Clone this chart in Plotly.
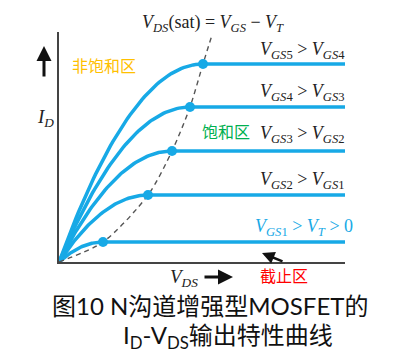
import numpy as np
import plotly.graph_objects as go

# --- data (pixel-like units from the origin) ---
curve_names = ["VGS1", "VGS2", "VGS3", "VGS4", "VGS5"]
v_sat = [44, 89, 113, 131, 144]        # V_DS(sat) of each curve
i_sat = [20, 67, 111, 155, 198]        # saturation current of each curve
v_ds_max = 286                          # end of the V_DS axis
i_d_max = 230                           # top of the I_D axis
boundary_v = [0, 44, 89, 113, 131, 144, 153]   # dashed V_DS(sat) locus
boundary_i = [0, 20, 67, 111, 155, 198, 227]
curve_labels = [
    "<i>V</i><sub><i>GS</i>1</sub> &gt; <i>V</i><sub><i>T</i></sub> &gt; 0",
    "<i>V</i><sub><i>GS</i>2</sub> &gt; <i>V</i><sub><i>GS</i>1</sub>",
    "<i>V</i><sub><i>GS</i>3</sub> &gt; <i>V</i><sub><i>GS</i>2</sub>",
    "<i>V</i><sub><i>GS</i>4</sub> &gt; <i>V</i><sub><i>GS</i>3</sub>",
    "<i>V</i><sub><i>GS</i>5</sub> &gt; <i>V</i><sub><i>GS</i>4</sub>",
]

BLUE = "#17A9E6"
fig = go.Figure()

# square-law output curves built from each read saturation point
for vs, isat in zip(v_sat, i_sat):
    x_tri = np.linspace(0, vs, 60)
    y_tri = isat * (1 - (1 - x_tri / vs) ** 2)
    x = np.concatenate([x_tri, [v_ds_max]])
    y = np.concatenate([y_tri, [isat]])
    fig.add_trace(go.Scatter(x=x, y=y, mode="lines",
                             line=dict(color=BLUE, width=3.5),
                             hoverinfo="skip", showlegend=False))

# dashed saturation boundary
fig.add_trace(go.Scatter(x=boundary_v, y=boundary_i, mode="lines",
                         line=dict(color="#555555", width=1.4, dash="5px,4px", shape="spline",
                                   smoothing=0.8),
                         hoverinfo="skip", showlegend=False))

# saturation dots
fig.add_trace(go.Scatter(x=v_sat, y=i_sat, mode="markers",
                         marker=dict(color=BLUE, size=10),
                         hoverinfo="skip", showlegend=False, cliponaxis=False))

L, R, T, B = 59, 61, 32, 90
W, H = 406, 352
pw, ph = W - L - R, H - T - B

def px(xp):
    return (xp - L) / pw

def py(yp):
    return (H - B - yp) / ph

serif = "Liberation Serif"
ann = []


def text(xp, yp, t, font, xanchor="center"):
    return dict(x=px(xp), y=py(yp), xref="paper", yref="paper", text=t,
                showarrow=False, xanchor=xanchor, yanchor="middle", font=font)


# curve labels (right aligned)
label_y = [227, 180, 134, 92, 50]
label_xr = [355, 347, 347, 347, 347]
for i, (t, yy, xr) in enumerate(zip(curve_labels, label_y, label_xr)):
    ann.append(text(xr, yy, t, dict(family=serif, size=18,
                                    color=BLUE if i == 0 else "#222222"),
                    xanchor="right"))

# top formula
ann.append(text(213, 23,
                "<i>V</i><sub><i>DS</i></sub>(sat) = <i>V</i><sub><i>GS</i></sub> − <i>V</i><sub><i>T</i></sub>",
                dict(family=serif, size=18, color="#222222")))

# region names
cjk = "Noto Sans CJK SC"
ann.append(text(104, 65, "非饱和区", dict(family=cjk, size=16, color="#FFC000")))
ann.append(text(226, 131, "饱和区", dict(family=cjk, size=16, color="#00B050")))
ann.append(text(284, 275, "截止区", dict(family=cjk, size=16, color="#FF0000")))


def arrow(hx, hy, tx, ty, w):
    return dict(x=px(hx), y=py(hy), xref="paper", yref="paper", text="",
                showarrow=True, ax=tx - hx, ay=ty - hy, axref="pixel", ayref="pixel",
                arrowhead=2, arrowsize=1, arrowwidth=w, arrowcolor="#111111",
                standoff=0, startstandoff=0)


# I_D label and up arrow
ann.append(text(45, 118, "<i>I</i><sub><i>D</i></sub>",
                dict(family=serif, size=19, color="#222222")))
ann.append(arrow(44, 46, 44, 78, 3))

# V_DS label and right arrow
ann.append(text(184, 278, "<i>V</i><sub><i>DS</i></sub>",
                dict(family=serif, size=19, color="#222222")))
ann.append(arrow(233, 277, 203, 277, 3))

# cut-off pointer arrow
ann.append(arrow(262, 253, 284, 262, 2.5))

# caption
cap_font = dict(family="Lato, Noto Sans CJK SC", size=24, color="#111111")
ann.append(text(50, 305, "图10 N沟道增强型MOSFET的", cap_font, xanchor="left"))
ann.append(text(121, 336, "I<sub>D</sub>-V<sub>DS</sub>输出特性曲线", cap_font,
                xanchor="left"))

fig.update_layout(
    width=W, height=H,
    margin=dict(l=L, r=R, t=T, b=B),
    paper_bgcolor="white", plot_bgcolor="white",
    xaxis=dict(range=[0, v_ds_max], showgrid=False, zeroline=False,
               showticklabels=False, ticks="", showline=True,
               linecolor="#444444", linewidth=2),
    yaxis=dict(range=[0, i_d_max], showgrid=False, zeroline=False,
               showticklabels=False, ticks="", showline=True,
               linecolor="#444444", linewidth=2),
    annotations=ann,
    showlegend=False,
)

fig.write_html("out.html")
